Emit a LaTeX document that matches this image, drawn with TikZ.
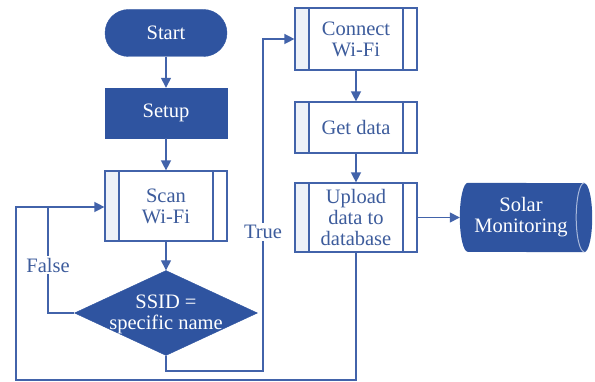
\documentclass[tikz,border=0pt]{standalone}
\usepackage{fontspec}
\setmainfont{Liberation Serif}
\usetikzlibrary{arrows.meta,shapes.geometric,calc}
\definecolor{flowblue}{HTML}{2F54A0}
\definecolor{linkblue}{HTML}{4263AA}
\definecolor{textblue}{HTML}{3D5C9C}
\definecolor{stripfill}{HTML}{EEF2F8}
\definecolor{capline}{HTML}{A9B9DB}
\tikzset{
  base/.style={font=\fontsize{20.5}{21}\selectfont, align=center, inner sep=0pt},
  terminal/.style={base, draw=flowblue, fill=flowblue, text=white,
    minimum width=122pt, minimum height=47pt, rounded corners=23.5pt},
  process/.style={base, draw=flowblue, fill=flowblue, text=white,
    minimum width=122pt, minimum height=50pt},
  subproc/.style={base, draw=linkblue, line width=1.2pt, fill=white, text=textblue,
    minimum width=122pt,
    path picture={
      \fill[stripfill] (path picture bounding box.north west) rectangle
        ([xshift=14pt]path picture bounding box.south west);
      \draw[linkblue, line width=1.2pt]
        ([xshift=14pt]path picture bounding box.north west) --
        ([xshift=14pt]path picture bounding box.south west)
        ([xshift=-14pt]path picture bounding box.north east) --
        ([xshift=-14pt]path picture bounding box.south east);}},
  decision/.style={diamond, draw=flowblue, fill=flowblue, inner sep=0pt,
    minimum width=183pt, minimum height=85pt},
  lbl/.style={base, fill=white, text=textblue, inner ysep=2pt, inner xsep=1pt},
  link/.style={draw=linkblue, line width=1.4pt},
  arr/.style={link, -{Triangle[length=10pt,width=10pt]}}
}
\begin{document}
\begin{tikzpicture}[x=1pt, y=-1pt]
\useasboundingbox (0,0) rectangle (595,382);

% left column
\node[terminal] (start) at (166,33) {Start};
\node[process] (setup) at (166,113) {Setup};
\node[subproc, minimum height=70pt] (scan) at (166,206) {Scan\\Wi-Fi};
\node[decision] (ssid) at (166,313) {};
\node[base, text=white] (ssidtext) at (166,314) {SSID =\\specific name};

% right column
\node[subproc, minimum height=62pt] (conn) at (356,39) {Connect\\Wi-Fi};
\node[subproc, minimum height=51pt] (get) at (356,127.5) {Get data};
\node[subproc, minimum height=69pt] (upload) at (356,217.5) {Upload\\data to\\database};

% storage: horizontal cylinder
\node[base, text=white, minimum width=132pt, minimum height=69pt] (solar) at (526,217.5) {};
\fill[flowblue] ([xshift=8pt]solar.north west)
  arc[start angle=270, end angle=90, x radius=8, y radius=34.5]
  -- ([xshift=-8pt]solar.south east)
  arc[start angle=90, end angle=-90, x radius=8, y radius=34.5]
  -- cycle;
\draw[capline, line width=1pt] ([xshift=-8pt]solar.north east)
  arc[start angle=270, end angle=90, x radius=8, y radius=34.5];
\node[base, text=white] (solartext) at ([xshift=-5pt]solar.center) {Solar\\Monitoring};

% coordinates for the loop-back lines
\coordinate (fl) at (48,313);
\coordinate (ft) at (48,207);
\coordinate (tb) at (166,371);
\coordinate (tc) at (263,371);
\coordinate (tt) at (263,39);
\coordinate (ub) at (356,380);
\coordinate (ol) at (16,380);
\coordinate (ot) at (16,207);

% main flow
\draw[arr] (start) -- (setup);
\draw[arr] (setup) -- (scan);
\draw[arr] (scan) -- (ssid);
\draw[arr] (conn) -- (get);
\draw[arr] (get) -- (upload);
\draw[arr] (upload) -- (solar.west);

% False branch back to scanning
\draw[arr] (ssid.west) -- (fl) -- (ft) -- (scan.west |- ft);
\node[lbl] (flabel) at (48,265) {False};

% True branch to connecting
\draw[arr] (ssid.south) -- (tb) -- (tc) -- (tt) -- (conn.west |- tt);
\node[lbl] (tlabel) at (263,232) {True};

% after upload, loop back to scanning
\draw[link] (upload.south) -- (ub) -- (ol) -- (ot) -- (ft);
\end{tikzpicture}
\end{document}
